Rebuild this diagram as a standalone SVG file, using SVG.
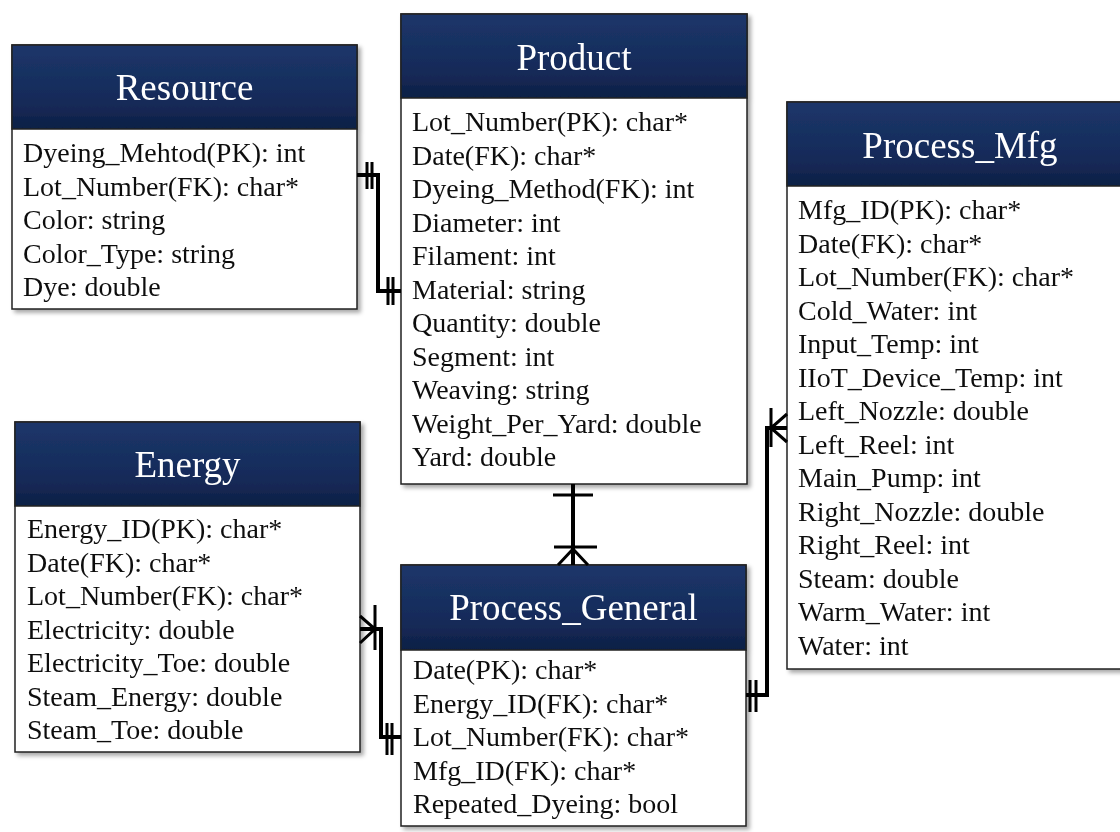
<svg xmlns="http://www.w3.org/2000/svg" width="1120" height="832" viewBox="0 0 1120 832">
  <defs>
    <linearGradient id="hdr" x1="0" y1="0" x2="0" y2="1">
      <stop offset="0" stop-color="#1c366a"/>
      <stop offset="0.7" stop-color="#152a58"/>
      <stop offset="1" stop-color="#0e1f45"/>
    </linearGradient>
    <filter id="shadow" x="-5%" y="-5%" width="115%" height="115%">
      <feDropShadow dx="3" dy="3" stdDeviation="2" flood-color="#000" flood-opacity="0.35"/>
    </filter>
  </defs>
  <style>
    .box { fill: #ffffff; stroke: #222; stroke-width: 1.5; }
    .head { fill: url(#hdr); stroke: #222; stroke-width: 1.5; }
    .title { font-family: "Liberation Serif", "Times New Roman", serif; font-size: 37px; fill: #ffffff; text-anchor: middle; }
    .attr { font-family: "Liberation Serif", "Times New Roman", serif; font-size: 28px; fill: #111; }
    .rel { fill: none; stroke: #000; stroke-width: 4; stroke-linejoin: miter; }
    .mark { fill: none; stroke: #000; stroke-width: 3; }
  </style>
  <rect width="1120" height="832" fill="#ffffff"/>

  <!-- entities -->
  <g id="resource" filter="url(#shadow)">
    <rect class="box" x="12" y="45" width="345" height="264"/>
    <rect class="head" x="12" y="45" width="345" height="84"/>
    <text class="title" x="184.5" y="100">Resource</text>
    <text class="attr"><tspan x="23" y="162">Dyeing_Mehtod(PK): int</tspan><tspan x="23" y="195.5">Lot_Number(FK): char*</tspan><tspan x="23" y="229">Color: string</tspan><tspan x="23" y="262.5">Color_Type: string</tspan><tspan x="23" y="296">Dye: double</tspan></text>
  </g>

  <g id="product" filter="url(#shadow)">
    <rect class="box" x="401" y="14" width="346" height="470"/>
    <rect class="head" x="401" y="14" width="346" height="84"/>
    <text class="title" x="574" y="70">Product</text>
    <text class="attr"><tspan x="412" y="131">Lot_Number(PK): char*</tspan><tspan x="412" y="164.5">Date(FK): char*</tspan><tspan x="412" y="198">Dyeing_Method(FK): int</tspan><tspan x="412" y="231.5">Diameter: int</tspan><tspan x="412" y="265">Filament: int</tspan><tspan x="412" y="298.5">Material: string</tspan><tspan x="412" y="332">Quantity: double</tspan><tspan x="412" y="365.5">Segment: int</tspan><tspan x="412" y="399">Weaving: string</tspan><tspan x="412" y="432.5">Weight_Per_Yard: double</tspan><tspan x="412" y="466">Yard: double</tspan></text>
  </g>

  <g id="process_mfg" filter="url(#shadow)">
    <rect class="box" x="787" y="102" width="346" height="567"/>
    <rect class="head" x="787" y="102" width="346" height="84"/>
    <text class="title" x="960" y="158">Process_Mfg</text>
    <text class="attr"><tspan x="798" y="219">Mfg_ID(PK): char*</tspan><tspan x="798" y="252.5">Date(FK): char*</tspan><tspan x="798" y="286">Lot_Number(FK): char*</tspan><tspan x="798" y="319.5">Cold_Water: int</tspan><tspan x="798" y="353">Input_Temp: int</tspan><tspan x="798" y="386.5">IIoT_Device_Temp: int</tspan><tspan x="798" y="420">Left_Nozzle: double</tspan><tspan x="798" y="453.5">Left_Reel: int</tspan><tspan x="798" y="487">Main_Pump: int</tspan><tspan x="798" y="520.5">Right_Nozzle: double</tspan><tspan x="798" y="554">Right_Reel: int</tspan><tspan x="798" y="587.5">Steam: double</tspan><tspan x="798" y="621">Warm_Water: int</tspan><tspan x="798" y="654.5">Water: int</tspan></text>
  </g>

  <g id="energy" filter="url(#shadow)">
    <rect class="box" x="15" y="422" width="345" height="330"/>
    <rect class="head" x="15" y="422" width="345" height="84"/>
    <text class="title" x="187.5" y="477">Energy</text>
    <text class="attr"><tspan x="27" y="538">Energy_ID(PK): char*</tspan><tspan x="27" y="571.5">Date(FK): char*</tspan><tspan x="27" y="605">Lot_Number(FK): char*</tspan><tspan x="27" y="638.5">Electricity: double</tspan><tspan x="27" y="672">Electricity_Toe: double</tspan><tspan x="27" y="705.5">Steam_Energy: double</tspan><tspan x="27" y="739">Steam_Toe: double</tspan></text>
  </g>

  <g id="process_general" filter="url(#shadow)">
    <rect class="box" x="401" y="565" width="345" height="261"/>
    <rect class="head" x="401" y="565" width="345" height="85"/>
    <text class="title" x="573.5" y="620">Process_General</text>
    <text class="attr"><tspan x="413" y="679">Date(PK): char*</tspan><tspan x="413" y="712.5">Energy_ID(FK): char*</tspan><tspan x="413" y="746">Lot_Number(FK): char*</tspan><tspan x="413" y="779.5">Mfg_ID(FK): char*</tspan><tspan x="413" y="813">Repeated_Dyeing: bool</tspan></text>
  </g>

  <!-- relationships -->
  <g id="connectors">
    <!-- Resource to Product: one-and-only-one both ends -->
    <polyline class="rel" points="357,175 378,175 378,291 401,291"/>
    <path class="mark" d="M367,162 V189 M372,162 V189 M388,277 V305 M393,277 V305"/>

    <!-- Product to Process_General: one to many -->
    <line class="rel" x1="573" y1="484" x2="573" y2="565"/>
    <path class="mark" d="M553,495 H593 M554,547 H597 M573,549 L558,565 M573,549 L588,565"/>

    <!-- Energy to Process_General: many to one-and-only-one -->
    <polyline class="rel" points="360,629 381,629 381,737 401,737"/>
    <path class="mark" d="M375,605 V650 M360,616 L375,629 L360,643 M387,723 V755 M392,723 V755"/>

    <!-- Process_Mfg to Process_General: many to one-and-only-one -->
    <polyline class="rel" points="746,695 767,695 767,428 787,428"/>
    <path class="mark" d="M771,408 V447 M787,414 L771,428 L787,442 M750,680 V712 M756,680 V712"/>
  </g>
</svg>
